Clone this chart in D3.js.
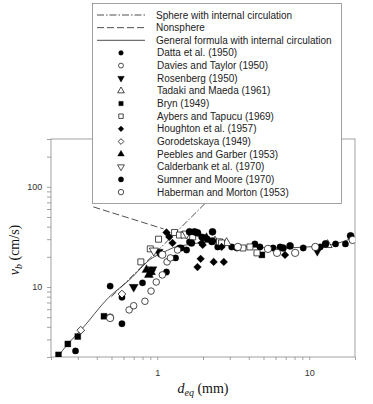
<!DOCTYPE html>
<html>
<head>
<meta charset="utf-8">
<script src="https://cdn.jsdelivr.net/npm/d3@7"></script>
<style>
  body { margin: 0; background: #fff; }
  svg { display: block; }
</style>
</head>
<body>
<div id="graph"></div>
<script>
//----------------------------------------------------------
// data: [d_eq (mm), v_b (cm/s)]

var sphereCirc = [[0.5, 8.0], [5.5, 300]];
var nonsphere = [[0.38, 63], [1.1, 38]];
var generalFormula = [
  [0.218, 1.95], [0.261, 2.75], [0.314, 3.7], [0.481, 7.9], [0.653, 11.7],
  [0.927, 19.5], [1.08, 21.9], [1.26, 24.5], [1.56, 26.3], [2.31, 28.2],
  [3.0, 26.3], [4.07, 25.1], [6.4, 24.5], [9.7, 25.1], [13.8, 26.3], [20.2, 31.6]
];

var dattaEtAl = [
  [0.29, 2.3], [0.49, 10.2], [0.586, 7.9], [0.586, 4.3], [0.80, 11.0],
  [1.15, 14.1], [1.32, 19.5], [1.96, 31.6], [2.05, 31.0], [1.63, 28.2],
  [1.44, 24.5], [2.14, 30.0], [2.28, 28.2], [2.50, 25.1], [3.09, 25.1],
  [3.34, 24.5], [1.40, 24.5], [1.56, 23.4], [4.39, 26.9], [4.74, 25.1],
  [5.78, 24.5], [6.43, 25.1], [9.13, 24.5], [11.8, 25.1], [14.9, 26.9], [17.3, 26.9]
];
var daviesTaylor = [
  [0.49, 5.0], [0.653, 5.9], [0.70, 6.5], [0.83, 7.2], [0.91, 9.1],
  [0.985, 11.2], [1.08, 13.2], [1.16, 17.8], [1.22, 19.5], [1.36, 23.4]
];
var rosenberg = [[0.70, 10.0], [0.91, 14.0], [0.93, 15.0], [1.02, 22.4], [11.3, 22.9]];
var tadakiMaeda = [[2.86, 27.5], [13.2, 26.3], [2.4, 28.5]];
var bryn = [[0.224, 2.1], [0.258, 2.7], [0.30, 3.2], [0.446, 5.1], [4.88, 20.9]];
var aybersTapucu = [
  [0.78, 17.8], [0.90, 24.0], [1.02, 30.0], [1.30, 35.0], [1.40, 33.0],
  [1.50, 33.0], [1.71, 31.6], [2.57, 28.2], [2.65, 27.5], [3.66, 24.5],
  [4.07, 25.1], [4.53, 21.9]
];
var houghtonEtAl = [
  [1.15, 35.0], [1.20, 31.6], [1.26, 27.5], [1.99, 26.3], [1.93, 19.1],
  [1.84, 15.8], [2.35, 17.8], [2.74, 17.8], [1.96, 27.5], [2.65, 25.1], [6.93, 20.9]
];
var gorodetskaya = [[0.314, 3.7], [0.586, 8.5]];
var peeblesGarber = [[0.85, 14.8], [0.88, 13.2], [0.91, 14.1], [2.11, 30.9]];
var calderbankEtAl = [[1.56, 34.0], [0.95, 23.0]];
var sumnerMoore = [
  [1.63, 35.5], [1.76, 35.5], [1.84, 34.7], [2.31, 35.5], [1.68, 27.5],
  [2.31, 28.8], [6.73, 24.5], [7.48, 25.7], [12.8, 26.9], [18.7, 32.4]
];
var habermanMorton = [
  [3.39, 25.1], [5.35, 24.0], [6.14, 21.9], [8.08, 21.9], [10.96, 25.1],
  [19.3, 29.5], [1.08, 21.0], [0.49, 4.9]
];

var lineNames = ["Sphere with internal circulation", "Nonsphere",
                 "General formula with internal circulation"];
var seriesNames = ["Datta et al. (1950)", "Davies and Taylor (1950)", "Rosenberg (1950)",
  "Tadaki and Maeda (1961)", "Bryn (1949)", "Aybers and Tapucu (1969)",
  "Houghton et al. (1957)", "Gorodetskaya (1949)", "Peebles and Garber (1953)",
  "Calderbank et al. (1970)", "Sumner and Moore (1970)", "Haberman and Morton (1953)"];

var xTickLabels = [1, 10];
var yTickLabels = [10, 100];

//----------------------------------------------------------
var width = 373, height = 404;
var margin = { left: 51, right: 18, top: 139, bottom: 47 };

var svg = d3.select("#graph")
  .append("svg")
    .attr("width", width)
    .attr("height", height);

var x = d3.scaleLog().domain([0.2, 20]).range([margin.left, width - margin.right]);
var y = d3.scaleLog().domain([2, 300]).range([height - margin.bottom, margin.top]);

var frameColour = "#8a8a8a";
var tickFont = "Liberation Sans, Arial, sans-serif";

// marker styles: [symbol, filled, size, rotate]
var markerStyle = [
  [d3.symbolCircle, true, 32, 0],
  [d3.symbolCircle, false, 34, 0],
  [d3.symbolTriangle, true, 36, 180],
  [d3.symbolTriangle, false, 36, 0],
  [d3.symbolSquare, true, 36, 0],
  [d3.symbolSquare, false, 36, 0],
  [d3.symbolSquare, true, 30, 45],
  [d3.symbolSquare, false, 30, 45],
  [d3.symbolTriangle, true, 36, 0],
  [d3.symbolTriangle, false, 36, 180],
  [d3.symbolCircle, true, 40, 0],
  [d3.symbolCircle, false, 42, 0]
];
var seriesData = [dattaEtAl, daviesTaylor, rosenberg, tadakiMaeda, bryn, aybersTapucu,
  houghtonEtAl, gorodetskaya, peeblesGarber, calderbankEtAl, sumnerMoore, habermanMorton];

var lineDash = ["7,2,1.5,2", "7,3", null];
var lineData = [sphereCirc, nonsphere, generalFormula];

//----------------------------------------------------------
// axes
function MinorTicks(lo, hi) {
    var out = [];
    for (var p = Math.floor(Math.log10(lo)); p <= Math.ceil(Math.log10(hi)); p++) {
        for (var k = 1; k < 10; k++) {
            var v = k * Math.pow(10, p);
            if (v >= lo - 1e-9 && v <= hi + 1e-9) out.push(v);
        }
    }
    return out;
}

var xAxis = d3.axisBottom(x)
    .tickValues(MinorTicks(0.2, 20))
    .tickSize(3)
    .tickFormat(function (d) { return xTickLabels.indexOf(d) >= 0 ? d : ""; });

var yAxis = d3.axisLeft(y)
    .tickValues(MinorTicks(2, 300))
    .tickSize(4)
    .tickFormat(function (d) { return yTickLabels.indexOf(Math.round(d)) >= 0 ? d : ""; });

function StyleAxis(g) {
    g.select(".domain").remove();
    g.selectAll("line").attr("stroke", frameColour).attr("stroke-width", 0.8);
    g.selectAll("text")
        .attr("fill", "#333")
        .style("font-family", tickFont)
        .style("font-size", "9px");
}

svg.append("g")
    .attr("transform", "translate(0," + y.range()[0] + ")")
    .call(xAxis)
    .call(StyleAxis)
    .selectAll("text").attr("dy", "1.4em");

svg.append("g")
    .attr("transform", "translate(" + x.range()[0] + ",0)")
    .call(yAxis)
    .call(StyleAxis)
    .selectAll("text").attr("dx", "-0.2em");

svg.append("rect")
    .attr("x", x.range()[0])
    .attr("y", y.range()[1])
    .attr("width", x.range()[1] - x.range()[0])
    .attr("height", y.range()[0] - y.range()[1])
    .attr("fill", "none")
    .attr("stroke", frameColour)
    .attr("stroke-width", 0.8);

// axis titles
var xTitle = svg.append("text")
    .attr("x", 203)
    .attr("y", 393)
    .attr("text-anchor", "middle")
    .style("font-family", "Liberation Serif, Times New Roman, serif")
    .style("font-size", "14px")
    .attr("fill", "#111");
xTitle.append("tspan").style("font-style", "italic").text("d");
xTitle.append("tspan").style("font-style", "italic").style("font-size", "10px")
    .attr("dy", 3).text("eq");
xTitle.append("tspan").attr("dy", -3).text(" (mm)");

var yTitle = svg.append("text")
    .attr("transform", "translate(19,250) rotate(-90)")
    .attr("text-anchor", "middle")
    .style("font-family", "Liberation Serif, Times New Roman, serif")
    .style("font-size", "14px")
    .attr("fill", "#111");
yTitle.append("tspan").style("font-style", "italic").text("v");
yTitle.append("tspan").style("font-style", "italic").style("font-size", "10px")
    .attr("dy", 3).text("b");
yTitle.append("tspan").attr("dy", -3).text(" (cm/s)");

//----------------------------------------------------------
// curves and points
svg.append("clipPath").attr("id", "plot-clip")
  .append("rect")
    .attr("x", x.range()[0])
    .attr("y", y.range()[1])
    .attr("width", x.range()[1] - x.range()[0])
    .attr("height", y.range()[0] - y.range()[1]);

var plot = svg.append("g").attr("clip-path", "url(#plot-clip)");

var line = d3.line()
    .x(function (d) { return x(d[0]); })
    .y(function (d) { return y(d[1]); })
    .curve(d3.curveMonotoneX);

plot.selectAll("path.curve")
  .data(lineData)
  .join("path")
    .attr("class", "curve")
    .attr("d", line)
    .attr("fill", "none")
    .attr("stroke", "#222")
    .attr("stroke-width", 0.8)
    .attr("stroke-dasharray", function (d, i) { return lineDash[i]; });

function MarkerPath(style, scale) {
    return d3.symbol().type(style[0]).size(style[2] * (scale || 1))();
}

function DrawMarker(sel, style, scale) {
    sel.attr("d", MarkerPath(style, scale))
        .attr("fill", style[1] ? "#000" : "#fff")
        .attr("stroke", "#000")
        .attr("stroke-width", style[1] ? 0.3 : 0.7);
}

seriesData.forEach(function (data, i) {
    var style = markerStyle[i];
    plot.append("g")
      .selectAll("path")
      .data(data)
      .join("path")
        .attr("transform", function (d) {
            return "translate(" + x(d[0]) + "," + y(d[1]) + ") rotate(" + style[3] + ")";
        })
        .call(DrawMarker, style, 1);
});

//----------------------------------------------------------
// legend
var legend = svg.append("g");
legend.append("rect")
    .attr("x", 92.5).attr("y", 3.5)
    .attr("width", 249).attr("height", 200)
    .attr("fill", "#fff")
    .attr("stroke", frameColour)
    .attr("stroke-width", 0.8);

var rowY = function (i) { return 15 + i * 12.65; };

lineNames.forEach(function (name, i) {
    legend.append("line")
        .attr("x1", 97).attr("x2", 145)
        .attr("y1", rowY(i)).attr("y2", rowY(i))
        .attr("stroke", "#222")
        .attr("stroke-width", 0.8)
        .attr("stroke-dasharray", lineDash[i]);
});

seriesNames.forEach(function (name, i) {
    var style = markerStyle[i];
    legend.append("path")
        .attr("transform", "translate(121," + rowY(i + 3) + ") rotate(" + style[3] + ")")
        .call(DrawMarker, style, 0.55);
});

legend.selectAll("text")
  .data(lineNames.concat(seriesNames))
  .join("text")
    .attr("x", function (d, i) { return i < 3 ? 156 : 157; })
    .attr("y", function (d, i) { return rowY(i); })
    .attr("dy", "0.35em")
    .style("font-family", tickFont)
    .style("font-size", "10px")
    .attr("fill", "#222")
    .text(function (d) { return d; });
</script>
</body>
</html>
